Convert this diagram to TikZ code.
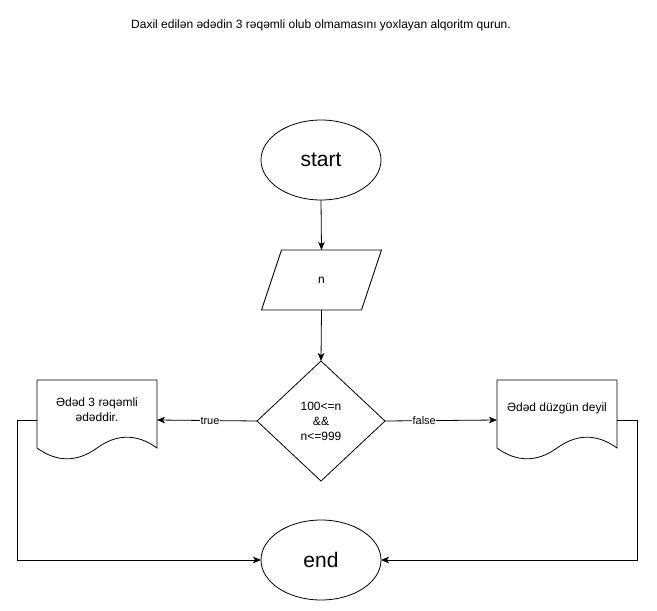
\documentclass[tikz,border=0pt]{standalone}
\usepackage{fontspec}
\setmainfont{Liberation Sans}
\usetikzlibrary{shapes.geometric,arrows.meta,calc}
\begin{document}
\begin{tikzpicture}[x=1pt,y=-1pt,
  every node/.style={inner sep=0pt, outer sep=0pt},
  txt/.style={font=\fontsize{12}{15}\selectfont, align=center},
  term/.style={draw, line width=0.8pt, ellipse, minimum width=120pt, minimum height=80pt, fill=white, font=\fontsize{21}{25}\selectfont},
  decis/.style={draw, line width=0.8pt, diamond, minimum width=128pt, minimum height=120pt, txt},
  docbox/.style={minimum width=120pt, minimum height=80pt},
  shapeline/.style={draw, line width=0.8pt},
  arrow/.style={line width=0.8pt, -{Stealth[length=8pt,width=6.5pt,inset=2pt]}},
  lbl/.style={fill=white, font=\fontsize{11}{13}\selectfont, inner sep=0.5pt}
]
\useasboundingbox (0,0) rectangle (657,611);
\fill[white] (0,0) rectangle (657,611);

\node[txt] (title) at (321,25) {Daxil edilən ədədin 3 rəqəmli olub olmamasını yoxlayan alqoritm qurun.};

\node[term] (start) at (321,160) {start};

\node[minimum width=80pt, minimum height=60pt, txt] (inp) at (321.5,280) {n};
\draw[shapeline] (inp.north west) -- ($(inp.north east)+(20,0)$) -- (inp.south east) -- ($(inp.south west)+(-20,0)$) -- cycle;

\node[decis] (dec) at (321,421) {100<=n\\\&\&\\n<=999};

\node[docbox] (ld) at (97,420) {};
\node[docbox] (rd) at (557,420) {};
\foreach \d in {ld,rd}{
  \draw[shapeline] (\d.north west) -- (\d.north east) -- ($(\d.north east)+(0,68)$)
    .. controls ($(\d.north west)+(100,53.6)$) and ($(\d.north west)+(80,53.6)$) .. ($(\d.north west)+(60,68)$)
    .. controls ($(\d.north west)+(40,82.4)$) and ($(\d.north west)+(20,82.4)$) .. ($(\d.north west)+(0,68)$) -- cycle;
}
\node[txt] (ldtext) at (97,409.5) {Ədəd 3 rəqəmli\\ədəddir.};
\node[txt] (rdtext) at (557,408) {Ədəd düzgün deyil};

\node[term] (end) at (321,560) {end};

\draw[arrow] (start.south) -- (inp.north);
\draw[arrow] (inp.south) -- (dec.north);
\draw[arrow] (dec.west) -- node[lbl, pos=0.47] {true} (ld.east);
\draw[arrow] (dec.east) -- node[lbl, pos=0.35] {false} (rd.west);
\draw[arrow] (ld.west) -- ++(-20,0) |- (end.west);
\draw[arrow] (rd.east) -- ++(20,0) |- (end.east);
\end{tikzpicture}
\end{document}
